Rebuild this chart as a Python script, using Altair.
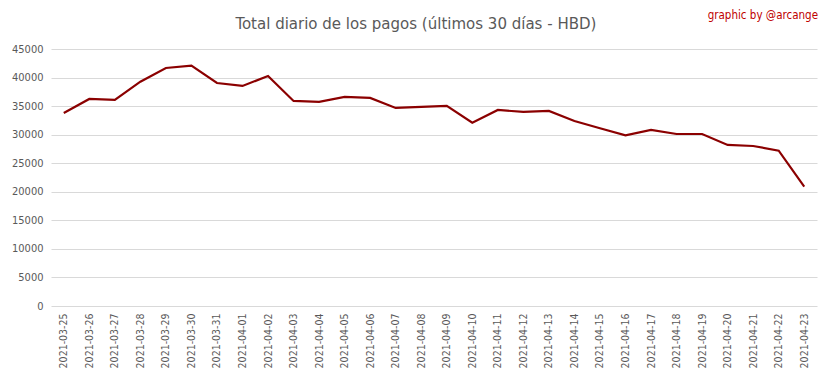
import altair as alt
import pandas as pd

dates = [
    "2021-03-25", "2021-03-26", "2021-03-27", "2021-03-28", "2021-03-29",
    "2021-03-30", "2021-03-31", "2021-04-01", "2021-04-02", "2021-04-03",
    "2021-04-04", "2021-04-05", "2021-04-06", "2021-04-07", "2021-04-08",
    "2021-04-09", "2021-04-10", "2021-04-11", "2021-04-12", "2021-04-13",
    "2021-04-14", "2021-04-15", "2021-04-16", "2021-04-17", "2021-04-18",
    "2021-04-19", "2021-04-20", "2021-04-21", "2021-04-22", "2021-04-23",
]
values = [
    33800, 36250, 36080, 39280, 41680,
    42090, 39050, 38530, 40280, 35900,
    35730, 36600, 36430, 34680, 34850,
    35030, 32100, 34330, 33980, 34150,
    32400, 31120, 29890, 30820, 30120,
    30120, 28200, 28020, 27200, 20900,
]
y_ticks = [0, 5000, 10000, 15000, 20000, 25000, 30000, 35000, 40000, 45000]

title_text = "Total diario de los pagos (últimos 30 días - HBD)"
credit_text = "graphic by @arcange"

df = pd.DataFrame({"fecha": dates, "total": values})

FONT = "Liberation Sans Narrow, DejaVu Sans Condensed, Liberation Sans, sans-serif"
W, H = 766, 257

base = alt.Chart(df)

line = base.mark_line(color="#8b0000", strokeWidth=2.2).encode(
    x=alt.X(
        "fecha:O",
        sort=dates,
        scale=alt.Scale(type="point", padding=0.5),
        axis=alt.Axis(
            title=None,
            labelAngle=-90,
            labelFontSize=10.5,
            labelColor="#595959",
            labelFont=FONT,
            labelPadding=7,
            ticks=False,
            domain=False,
            grid=False,
        ),
    ),
    y=alt.Y(
        "total:Q",
        scale=alt.Scale(domain=[0, 45000], nice=False),
        axis=alt.Axis(
            title=None,
            values=y_ticks,
            labelFontSize=11,
            labelColor="#595959",
            labelFont=FONT,
            labelPadding=8,
            ticks=False,
            domain=False,
            grid=True,
            gridColor="#d9d9d9",
            gridWidth=1,
            format="d",
        ),
    ),
)

title = alt.Chart(pd.DataFrame({"t": [title_text]})).mark_text(
    fontSize=16.7, color="#595959", font=FONT, align="center", baseline="alphabetic"
).encode(text="t:N", x=alt.value(365), y=alt.value(-20))

credit = alt.Chart(pd.DataFrame({"t": [credit_text]})).mark_text(
    fontSize=11.5, color="#c00000", font=FONT, align="right", baseline="alphabetic"
).encode(text="t:N", x=alt.value(767), y=alt.value(-30))

chart = (
    alt.layer(line, title, credit)
    .properties(
        width=W,
        height=H,
        autosize=alt.AutoSizeParams(type="none"),
        padding={"left": 43, "top": 41, "right": 8, "bottom": 65},
        background="white",
    )
    .configure_view(stroke=None)
)

chart.save("out.html", embed_options={"renderer": "svg", "actions": False})
